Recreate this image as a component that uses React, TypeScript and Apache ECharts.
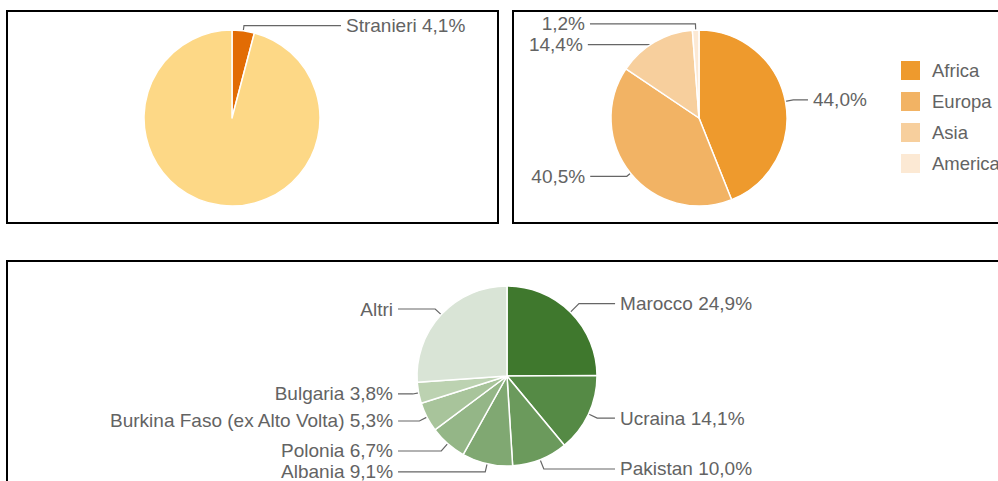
import React, { useEffect, useRef } from "react";
import * as echarts from "echarts";

// ---- data ----
const originNames = ["Stranieri", "Italiani"];
const originValues = [4.1, 95.9];

const continentNames = ["Africa", "Europa", "Asia", "America"];
const continentValues = [44.0, 40.5, 14.4, 1.2];

const countryNames = [
  "Marocco",
  "Ucraina",
  "Pakistan",
  "Albania",
  "Polonia",
  "Burkina Faso (ex Alto Volta)",
  "Bulgaria",
  "Altri",
];
const countryValues = [24.9, 14.1, 10.0, 9.1, 6.7, 5.3, 3.8, 26.1];

// ---- styles ----
const originColors = ["#e26c04", "#fdd886"];
const continentColors = ["#ee9a2d", "#f2b364", "#f7cf9d", "#fce9d4"];
const countryColors = [
  "#3f782d",
  "#558a45",
  "#6b9a5c",
  "#80a872",
  "#94b687",
  "#a8c49b",
  "#bcd2b1",
  "#d9e4d6",
];

// label line [length, length2] per slice (null = no label)
const originLines: (number[] | null)[] = [[5.2, 97], null];
const continentLines: (number[] | null)[] = [
  [8, 14.7],
  [4.8, 36.6],
  [-3.2, 68.5],
  [6.1, 105.5],
];
const countryLines: (number[] | null)[] = [
  [12.1, 36.1],
  [9.5, 17.8],
  [10, 71.2],
  [8.4, 87.2],
  [9.7, 43.3],
  [8.5, 21.3],
  [5.9, 14.8],
  [8.2, 37.2],
];

const FONT = "'Liberation Sans', Arial, Helvetica, sans-serif";
const TEXT = "#636363";

const pct = (v: number) => v.toFixed(1).replace(".", ",") + "%";

function buildItems(
  names: string[],
  values: number[],
  colors: string[],
  lines: (number[] | null)[],
  labelText: (name: string, value: number) => string
) {
  return names.map((n, i) => {
    const ln = lines[i];
    return {
      name: n,
      value: values[i],
      itemStyle: { color: colors[i] },
      label: ln ? { show: true, formatter: labelText(n, values[i]) } : { show: false },
      labelLine: ln ? { show: true, length: ln[0], length2: ln[1] } : { show: false },
    };
  });
}

const basePie = {
  type: "pie",
  radius: 88,
  startAngle: 90,
  clockwise: true,
  avoidLabelOverlap: false,
  silent: true,
  itemStyle: { borderColor: "#ffffff", borderWidth: 1.5 },
  label: {
    position: "outside",
    alignTo: "none",
    color: TEXT,
    fontFamily: FONT,
    fontSize: 19,
    lineHeight: 14,
    distanceToLabelLine: 5,
  },
  labelLine: {
    show: true,
    smooth: false,
    minTurnAngle: 0,
    maxSurfaceAngle: 180,
    lineStyle: { color: "#666666", width: 1.2 },
  },
  emphasis: { disabled: true },
};

export default function App() {
  const ref = useRef<HTMLDivElement>(null);

  useEffect(() => {
    if (!ref.current) return;
    const chart = echarts.init(ref.current, undefined, { renderer: "svg" });
    const border = { fill: "none", stroke: "#000000", lineWidth: 2 };
    chart.setOption({
      animation: false,
      backgroundColor: "#ffffff",
      legend: {
        data: continentNames,
        orient: "vertical",
        left: 899,
        top: 59,
        padding: 0,
        itemWidth: 21,
        itemHeight: 21,
        itemGap: 8,
        icon: "rect",
        selectedMode: false,
        textStyle: {
          fontFamily: FONT,
          fontSize: 18.5,
          color: TEXT,
          lineHeight: 16,
          padding: [0, 0, 0, 6],
        },
      },
      graphic: [
        { type: "rect", silent: true, shape: { x: 7, y: 11, width: 491, height: 212 }, style: border },
        { type: "rect", silent: true, shape: { x: 513, y: 11, width: 520, height: 212 }, style: border },
        { type: "rect", silent: true, shape: { x: 7, y: 261, width: 1020, height: 260 }, style: border },
      ],
      series: [
        {
          ...basePie,
          name: "origine",
          center: [232, 118],
          data: buildItems(originNames, originValues, originColors, originLines, (n, v) => `${n} ${pct(v)}`),
        },
        {
          ...basePie,
          name: "continenti",
          center: [699, 118],
          data: buildItems(continentNames, continentValues, continentColors, continentLines, (_n, v) => pct(v)),
        },
        {
          ...basePie,
          name: "paesi",
          center: [507, 376],
          radius: 90,
          data: buildItems(countryNames, countryValues, countryColors, countryLines, (n, v) =>
            n === "Altri" ? n : `${n} ${pct(v)}`
          ),
        },
      ],
    });
    return () => chart.dispose();
  }, []);

  return (
    <div
      ref={ref}
      style={{ position: "absolute", left: 0, top: 0, width: 998, height: 481, background: "#fff" }}
    />
  );
}
